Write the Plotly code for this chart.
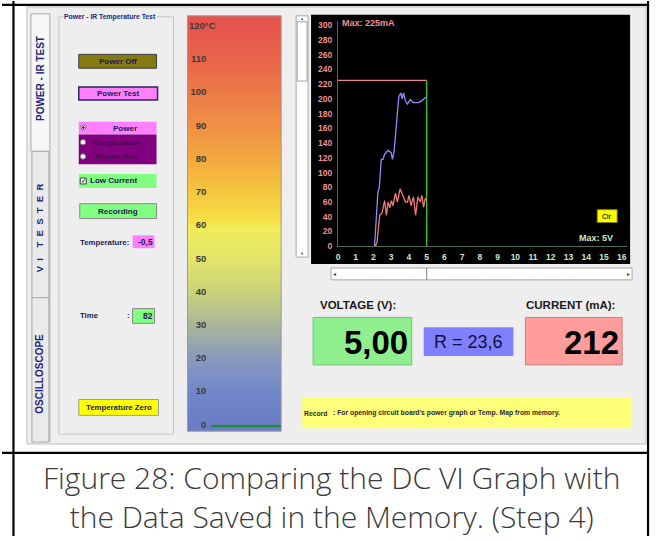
import plotly.graph_objects as go

W, H = 664, 541

# ---------------- data ----------------
memory_voltage = [2.06, 2.25, 2.33, 2.44, 2.54, 2.63, 2.82, 3.0, 3.07, 3.16, 3.43, 3.54,
                  3.62, 3.69, 3.81, 3.92, 4.07, 4.24, 4.52, 4.7, 4.89, 5.0]
memory_current = [0, 73, 80, 118, 118, 125, 130, 127, 118, 128, 203, 208,
                  200, 208, 197, 193, 199, 195, 195, 197, 201, 203]
live_voltage = [2.1, 2.2, 2.35, 2.48, 2.63, 2.73, 2.82, 2.92, 3.01, 3.1, 3.24, 3.35, 3.5,
                3.67, 3.81, 3.92, 4.0, 4.12, 4.25, 4.38, 4.5, 4.64, 4.73, 4.83, 4.92, 5.0]
live_current = [0, 5, 42, 45, 62, 42, 60, 52, 62, 55, 72, 60, 78,
                67, 60, 60, 69, 55, 67, 42, 67, 60, 69, 53, 65, 62]
max_current = 225
max_voltage = 5
x_ticks = list(range(0, 17))
y_ticks = list(range(0, 301, 20))
temp_ticks = list(range(0, 120, 10))
temp_top_label = "120°C"
temp_scale = list(range(-2, 124))
temperature_value = -0.5
voltage_text = "5,00"
current_text = "212"
resistance_text = "R = 23,6"
temperature_text = "-0,5"
time_text = "82"
caption_lines = ["Figure 28: Comparing the DC VI Graph with",
                 "the Data Saved in the Memory. (Step 4)"]


def X(p):
    return p / W


def Y(p):
    return 1 - p / H


shapes = []
ann = []
FONT = "Arial, Liberation Sans, sans-serif"


def rect(x0, y0, x1, y1, fill, line=None, lw=1, layer="below"):
    shapes.append(dict(type="rect", xref="paper", yref="paper",
                       x0=X(x0), x1=X(x1), y0=Y(y1), y1=Y(y0),
                       fillcolor=fill, layer=layer,
                       line=dict(color=line if line else "rgba(0,0,0,0)", width=lw if line else 0)))


def circle(x0, y0, x1, y1, fill, line, lw=1):
    shapes.append(dict(type="circle", xref="paper", yref="paper",
                       x0=X(x0), x1=X(x1), y0=Y(y1), y1=Y(y0),
                       fillcolor=fill, layer="below", line=dict(color=line, width=lw)))


def seg(x0, y0, x1, y1, color, lw=1, layer="below"):
    shapes.append(dict(type="line", xref="paper", yref="paper",
                       x0=X(x0), x1=X(x1), y0=Y(y0), y1=Y(y1), layer=layer,
                       line=dict(color=color, width=lw)))


def text(x, y, s, size, color, bold=False, xanchor="left", angle=0, family=FONT, bg=None):
    a = dict(xref="paper", yref="paper", x=X(x), y=Y(y),
             text=("<b>%s</b>" % s if bold else s), showarrow=False,
             xanchor=xanchor, yanchor="middle", textangle=angle, borderpad=0,
             font=dict(size=size, color=color, family=family))
    if bg:
        a["bgcolor"] = bg
    ann.append(a)


NAVY = "#23267a"
NB = "\u00a0"

# window
rect(25, 6, 646, 448, "#EEEEEE", "#BDBDBD")

# tabs
rect(29, 13, 48, 152, "#F7F7F7", "#A8A8A8")
rect(30, 152, 47, 300, "#EAEAEA", "#A8A8A8")
rect(30, 300, 47, 446, "#EAEAEA", "#A8A8A8")
seg(48, 152, 48, 446, "#A8A8A8")
text(38, 78, "POWER - IR TEST", 10, NAVY, True, "center", -90)
vi = (NB * 2).join("VI") + NB * 4 + (NB * 2).join("TESTER")
text(38, 229, vi, 9.5, NAVY, True, "center", -90)
text(38, 377, "OSCILLOSCOPE", 10, NAVY, True, "center", -90)

# group box
rect(57, 16, 172, 438, "rgba(0,0,0,0)", "#C6C6C6")
text(61, 16, "Power - IR Temperature Test", 6.8, NAVY, True, "left", bg="#EEEEEE")

# buttons
rect(77, 54, 155, 68, "#857A12", "#3C3C3C")
text(116, 61, "Power Off", 8, "#1A1A50", True, "center")
rect(77, 87, 156, 100, "#FF80FF", "#2A2A5A", 1.5)
text(116.5, 93.5, "Power Test", 8, "#1A1A50", True, "center")

rect(77, 122, 155, 135, "#FF80FF")
rect(77, 135, 155, 165, "#800080")
circle(79, 125.5, 84, 130.5, "#FFFFFF", "#707070")
circle(80.6, 127.1, 82.4, 128.9, "#202020", "#202020")
text(123, 128.5, "Power", 8, "#1A1A50", True, "center")
circle(78.5, 140, 84, 145.5, "#FFFFFF", "#707070")
circle(78.5, 154.5, 84, 160, "#FFFFFF", "#707070")
text(115, 143, "Temperature", 8, "#4E0A4E", True, "center")
text(114, 157.5, "Mouse Vari", 8, "#4E0A4E", True, "center")

rect(77, 175, 155, 189, "#80FF80")
rect(78.5, 179, 84.5, 185, "#FFFFFF", "#404040")
text(81.5, 182, "✓", 6, "#202020", True, "center")
text(112, 182, "Low Current", 8, "#1A1A50", True, "center")

rect(78, 205, 155, 220, "#80FF80", "#8A8A8A")
text(116, 212.5, "Recording", 8, "#1A1A50", True, "center")

text(77, 244, "Temperature:", 7.8, "#1A1A50", True, "left")
rect(131, 237, 153, 250, "#FF80FF")
text(152, 243.5, temperature_text, 8.5, "#1A1A50", True, "right")

text(77, 318, "Time", 7.8, "#1A1A50", True, "left")
text(124, 318, ":", 7.8, "#1A1A50", True, "left")
rect(131, 311, 153, 326, "#80FF80", "#8A8A8A")
text(152, 318.5, time_text, 8.5, "#1A1A50", True, "right")

rect(77, 403, 157, 419, "#FFFF00", "#9A9A9A")
text(117, 411, "Temperature Zero", 7.8, "#1A1A50", True, "center")

# vertical scrollbar
rect(295, 15, 307, 259, "#FFFFFF", "#A8A8A8")
rect(296, 21, 306, 81, "#FFFFFF", "#A0A0A0")
text(301, 18, "▲", 4, "#404040", False, "center")
text(301, 255, "▼", 4, "#404040", False, "center")

# graph panel
rect(310, 14, 630, 266, "#000000")
rect(597, 211, 617, 224, "#FFFF00", "#808000")
text(607, 217.5, "Clr", 6.5, "#303030", True, "center")
text(340, 22, "Max: 225mA", 9, "#F09090", True, "left")
text(578, 240, "Max: 5V", 9, "#CBE6C8", True, "left")

# horizontal scrollbar
rect(330, 270, 632, 282, "#FFFFFF", "#A8A8A8")
seg(426, 270, 426, 282, "#808080")
text(334, 276, "◂", 6, "#404040", False, "center")
text(628, 276, "▸", 6, "#404040", False, "center")

# readouts
text(318, 307, "VOLTAGE (V):", 11.5, "#1A1A1A", True, "left")
text(525, 307, "CURRENT (mA):", 11.5, "#1A1A1A", True, "left")
rect(312, 320, 411, 368, "#8FEF8F", "#7DBE7D")
text(408, 345, voltage_text, 33, "#000000", True, "right")
rect(423, 330, 513, 359, "#8080FF")
text(468, 345, resistance_text, 18, "#101040", False, "center")
rect(525, 320, 622, 368, "#FF9C9C", "#C88080")
text(620, 345, current_text, 33, "#000000", True, "right")

# info bar
rect(301, 401, 632, 432, "#FFFF7A")
text(302, 417, "Record", 6.8, "#2A2A2A", True, "left")
text(331, 417, ": For opening circuit board's power graph or Temp. Map from memory.", 6.8, "#2A2A2A", True, "left")

# colour bar border + top label
rect(186, 15, 280, 435, "rgba(0,0,0,0)", "#9A9A9A", 1, "above")
text(187, 25, temp_top_label, 9.5, "#3A3A3A", True, "left")

# document frame
seg(11.5, 0, 11.5, 541, "#000000", 2.2, "above")
seg(648, 0, 648, 541, "#000000", 2.2, "above")
seg(0, 4, 648, 4, "#000000", 2.2, "above")
seg(0, 457, 648, 457, "#000000", 2.2, "above")

# caption (single two-line text)
CAP = "Open Sans, Lato, sans-serif"
ann.append(dict(xref="paper", yref="paper", x=X(330), y=Y(502), text="<br>".join(caption_lines),
                showarrow=False, xanchor="center", yanchor="middle", align="center",
                font=dict(size=30, color="#3A3A3A", family=CAP, weight=300)))

fig = go.Figure()

# temperature colour scale
cscale = [
    [0.0, "#6B7DC6"], [0.083, "#7187C8"], [0.167, "#8A9ABD"], [0.25, "#A9B698"],
    [0.333, "#CBD37A"], [0.42, "#E4E56A"], [0.495, "#F0EC5A"], [0.505, "#F5E146"],
    [0.583, "#F5C63E"], [0.667, "#F3A840"], [0.75, "#EF8F45"], [0.833, "#EC7A48"],
    [0.917, "#E8654B"], [1.0, "#E6544E"],
]
fig.add_trace(go.Heatmap(x=[0.5], y=temp_scale, z=[[v] for v in temp_scale],
                         colorscale=cscale, zmin=0, zmax=120, showscale=False,
                         hoverinfo="skip", xaxis="x2", yaxis="y2"))
fig.add_trace(go.Scatter(x=[0.255, 1.0], y=[temperature_value, temperature_value], mode="lines",
                         line=dict(color="#1E8A3A", width=2.5), xaxis="x2", yaxis="y2"))

# VI graph
fig.add_trace(go.Scatter(x=[0, max_voltage], y=[max_current, max_current], mode="lines",
                         line=dict(color="#F08A8A", width=1.3)))
fig.add_trace(go.Scatter(x=[max_voltage, max_voltage], y=[0, max_current], mode="lines",
                         line=dict(color="#33CC33", width=1.3)))
fig.add_trace(go.Scatter(x=memory_voltage, y=memory_current, mode="lines",
                         line=dict(color="#8C8CFF", width=1.3)))
fig.add_trace(go.Scatter(x=live_voltage, y=live_current, mode="lines",
                         line=dict(color="#F07A7A", width=1.3)))

fig.update_layout(
    width=W, height=H, margin=dict(l=0, r=0, t=0, b=0),
    paper_bgcolor="#FFFFFF", plot_bgcolor="rgba(0,0,0,0)", showlegend=False,
    shapes=shapes, annotations=ann,
    xaxis=dict(domain=[X(337), X(627)], range=[0, 16.3], anchor="y",
               tickmode="array", tickvals=x_ticks, ticktext=["<b>%d</b>" % v for v in x_ticks],
               tickfont=dict(size=8.5, color="#CBE6C8", family=FONT),
               showline=True, linecolor="#4E6E4E", linewidth=1,
               ticks="outside", ticklen=3, tickcolor="#000000",
               showgrid=False, zeroline=False, fixedrange=True),
    yaxis=dict(domain=[Y(248), Y(20)], range=[0, 306], anchor="x",
               tickmode="array", tickvals=y_ticks, ticktext=["<b>%d</b>" % v for v in y_ticks],
               tickfont=dict(size=8.5, color="#F09090", family=FONT),
               showline=True, linecolor="#4E6E4E", linewidth=1,
               ticks="outside", ticklen=3, tickcolor="#000000",
               showgrid=False, zeroline=False, fixedrange=True),
    xaxis2=dict(domain=[X(186), X(280)], range=[0, 1], anchor="y2", visible=False, fixedrange=True),
    yaxis2=dict(domain=[Y(435), Y(15)], range=[-2.08, 122.98], anchor="free", position=X(205),
                side="left", tickmode="array", tickvals=temp_ticks,
                ticktext=["<b>%d</b>" % v for v in temp_ticks],
                tickfont=dict(size=9.5, color="#3A3A3A", family=FONT),
                ticks="", showline=False, showgrid=False, zeroline=False, fixedrange=True),
)

fig.write_html("out.html", config={"displayModeBar": False},
               post_script="document.body.style.margin='0';document.body.style.overflow='hidden';")
